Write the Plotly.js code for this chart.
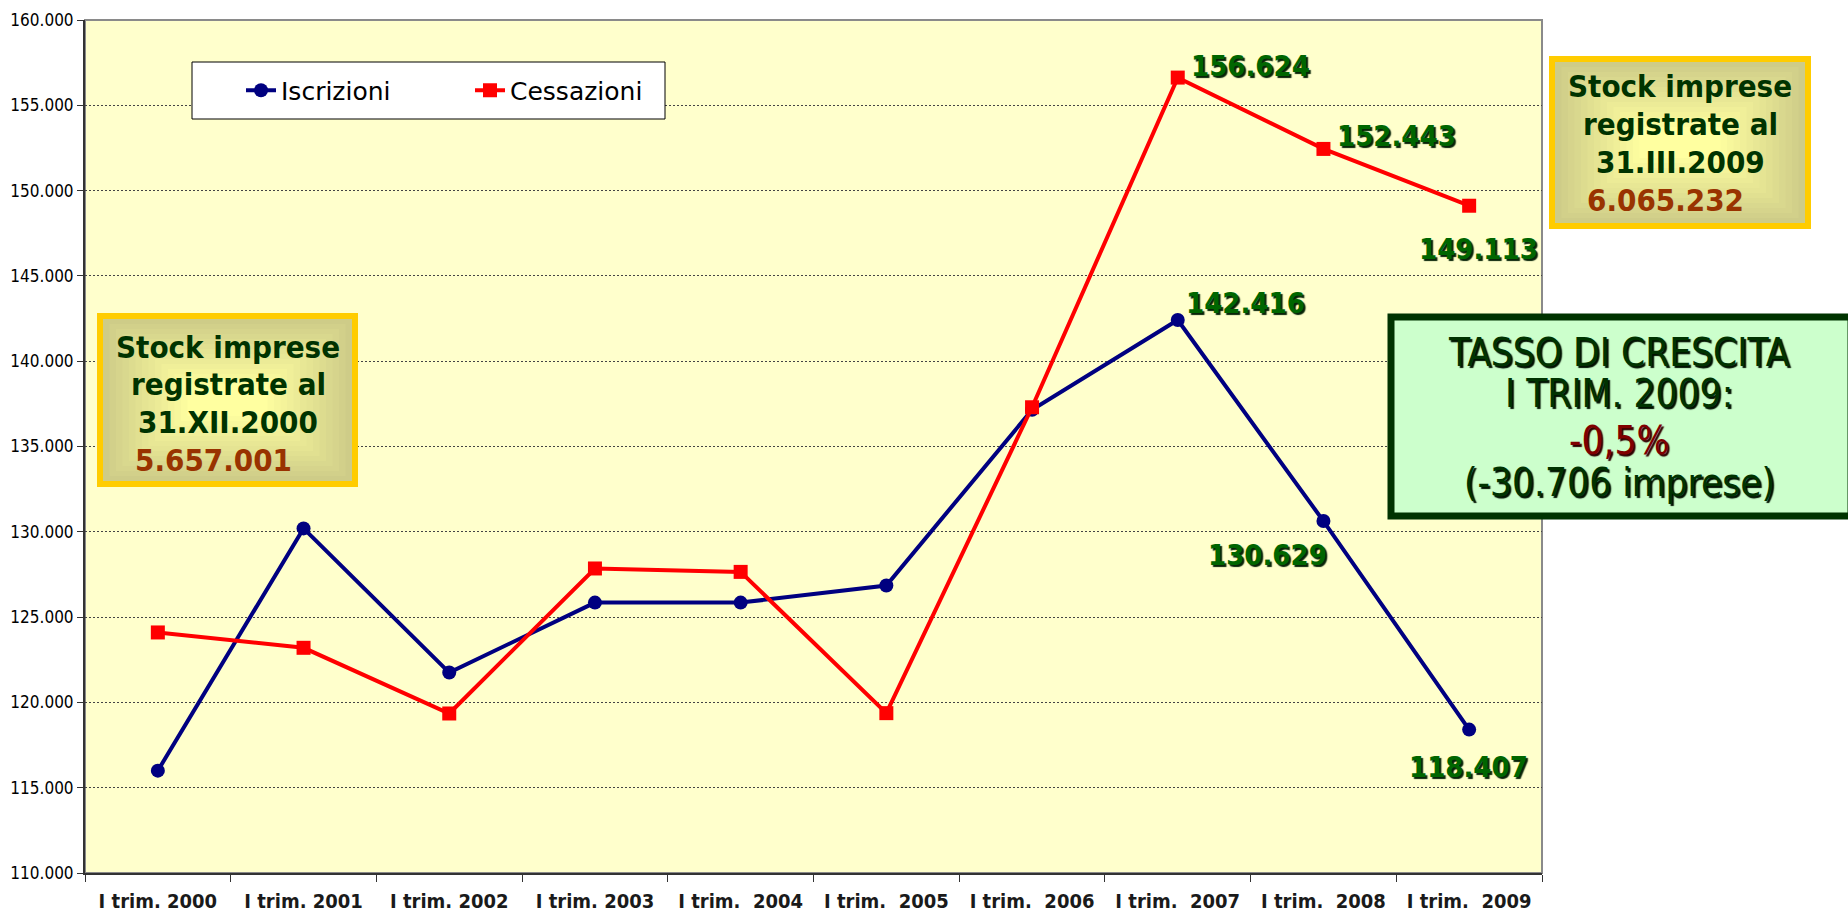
<!DOCTYPE html>
<html><head><meta charset="utf-8">
<script src="https://cdn.plot.ly/plotly-3.0.1.min.js"></script>
<style>html,body{margin:0;padding:0;background:#fff;overflow:hidden}#chart{width:1848px;height:916px}</style>
</head><body><div id="chart"></div>
<script>
// ---- data ----
const categories = ['I trim. 2000','I trim. 2001','I trim. 2002','I trim. 2003','I trim.\u00a0 2004','I trim.\u00a0 2005','I trim.\u00a0 2006','I trim.\u00a0 2007','I trim.\u00a0 2008','I trim.\u00a0 2009'];
const iscrizioni = [116000, 130200, 121750, 125850, 125850, 126850, 137150, 142416, 130629, 118407];
const cessazioni = [124100, 123200, 119350, 127850, 127650, 119370, 137300, 156624, 152443, 149113];
const seriesNames = ['Iscrizioni', 'Cessazioni'];
const stockDates = ['31.XII.2000', '31.III.2009'];
const stockValues = ['5.657.001', '6.065.232'];
const growthLines = ['TASSO DI CRESCITA', 'I TRIM. 2009:', '-0,5%', '(-30.706 imprese)'];

// ---- geometry helpers (pixel -> paper) ----
const L = 85, R = 1542, T = 20, B = 873;
const P = x => (x - L) / (R - L);
const Q = y => (B - y) / (B - T);
const F = '"DejaVu Sans Condensed", "DejaVu Sans", sans-serif';
const FN = '"DejaVu Sans", sans-serif';
const fmt = v => String(v).replace(/\B(?=(\d{3})+(?!\d))/g, '.');

const traces = [
  {x: categories, y: iscrizioni, name: seriesNames[0], type: 'scatter', mode: 'lines+markers',
   line: {color: '#000080', width: 4}, marker: {symbol: 'circle', size: 14, color: '#000080'}},
  {x: categories, y: cessazioni, name: seriesNames[1], type: 'scatter', mode: 'lines+markers',
   line: {color: '#FF0000', width: 4}, marker: {symbol: 'square', size: 14, color: '#FF0000'}}
];

const annotations = [];
const valFont = {family: F, size: 29, weight: 'bold', color: '#006600', shadow: '2px 2px 1px #082408'};
function valLabel(series, i, dx, dy) {
  annotations.push({x: categories[i], y: series[i], xref: 'x', yref: 'y', text: fmt(series[i]),
    showarrow: false, xshift: dx, yshift: -dy, font: valFont, xanchor: 'center', yanchor: 'middle'});
}
valLabel(cessazioni, 7, 73, -12);
valLabel(cessazioni, 8, 73, -13);
valLabel(cessazioni, 9, 9, 43);
valLabel(iscrizioni, 7, 68, -17);
valLabel(iscrizioni, 8, -56, 34);
valLabel(iscrizioni, 9, -1, 37);

const shapes = [];
// plot frame (top/right grey)
shapes.push({type: 'rect', xref: 'paper', yref: 'paper', x0: 0, x1: 1, y0: 0, y1: 1,
  line: {color: '#8a8a8a', width: 2}, fillcolor: 'rgba(0,0,0,0)', layer: 'below'});

// legend box
shapes.push({type: 'rect', xref: 'paper', yref: 'paper', x0: P(192), x1: P(665), y0: Q(119), y1: Q(62),
  line: {color: '#000', width: 1}, fillcolor: '#fff', layer: 'above'});

function stockBox(x0, y0, x1, y1) {
  shapes.push({type: 'rect', xref: 'paper', yref: 'paper', x0: P(x0), x1: P(x1), y0: Q(y1), y1: Q(y0),
    line: {width: 0}, fillcolor: '#FFCC00', layer: 'above'});
  const ix0 = x0 + 6, iy0 = y0 + 6, ix1 = x1 - 6, iy1 = y1 - 6;
  const steps = 14, inset = 5;
  for (let k = 0; k < steps; k++) {
    const t = k / (steps - 1);
    const r = Math.round(206 + (255 - 206) * t), g = Math.round(204 + (255 - 204) * t), b = Math.round(136 + (160 - 136) * t);
    shapes.push({type: 'rect', xref: 'paper', yref: 'paper',
      x0: P(ix0 + k * inset * 1.3), x1: P(ix1 - k * inset * 1.3), y0: Q(iy1 - k * inset), y1: Q(iy0 + k * inset),
      line: {width: 0}, fillcolor: `rgb(${r},${g},${b})`, layer: 'above'});
  }
}
stockBox(97, 313, 358, 487);
stockBox(1549, 56, 1811, 229);

// growth box
shapes.push({type: 'rect', xref: 'paper', yref: 'paper', x0: P(1391), x1: P(1851), y0: Q(516), y1: Q(317),
  line: {color: '#003300', width: 7}, fillcolor: '#CCFFCC', layer: 'above'});

const boxFont = {family: F, size: 31, weight: 'bold', color: '#003300'};
function boxText(text, cx, cy, color) {
  annotations.push({xref: 'paper', yref: 'paper', x: P(cx), y: Q(cy), text: text, showarrow: false,
    xanchor: 'center', yanchor: 'middle', font: Object.assign({}, boxFont, color ? {color} : {})});
}
boxText('Stock imprese', 228, 347);
boxText('registrate al', 228, 384);
boxText(stockDates[0], 228, 422);
boxText(stockValues[0], 213, 460, '#993300');
boxText('Stock imprese', 1680, 86);
boxText('registrate al', 1680, 124);
boxText(stockDates[1], 1680, 162);
boxText(stockValues[1], 1666, 200, '#993300');

const gFont = {family: F, size: 38.5, color: '#003300', shadow: '2px 2px 1px #001100'};
const gY = [352, 393, 440, 482];
growthLines.forEach((t, i) => {
  annotations.push({xref: 'paper', yref: 'paper', x: P(1619), y: Q(gY[i]), text: t, showarrow: false,
    xanchor: 'center', yanchor: 'middle', font: Object.assign({}, gFont, i === 2 ? {color: '#800000', shadow: '2px 2px 1px #300000'} : {})});
});

const layout = {
  width: 1848, height: 916,
  margin: {l: L, r: 1848 - R, t: T, b: 916 - B, autoexpand: false},
  paper_bgcolor: '#ffffff', plot_bgcolor: '#FFFFCC',
  separators: ',.',
  showlegend: true,
  legend: {orientation: 'h', x: P(241), xanchor: 'left', y: Q(90.5), yanchor: 'middle',
    bgcolor: 'rgba(0,0,0,0)', borderwidth: 0, font: {family: FN, size: 25, color: '#000'},
    entrywidth: 184, entrywidthmode: 'pixels'},
  xaxis: {type: 'category', range: [-0.5, 9.5], tickson: 'boundaries', ticks: 'outside', ticklen: 7,
    tickcolor: '#333', tickwidth: 1, showline: true, linecolor: '#333', linewidth: 2, showgrid: false,
    tickfont: {family: F, size: 20, weight: 'bold', color: '#1a1a1a'}, ticklabelstandoff: 9, fixedrange: true},
  yaxis: {range: [110000, 160000], dtick: 5000, tick0: 110000, tickformat: ',d', ticks: 'outside', ticklen: 6,
    tickcolor: '#333', showline: true, linecolor: '#333', linewidth: 2, showgrid: true,
    gridcolor: '#444', gridwidth: 1, griddash: '2px,2px', zeroline: false,
    tickfont: {family: F, size: 17, color: '#000'}, fixedrange: true},
  shapes: shapes,
  annotations: annotations
};
Plotly.newPlot('chart', traces, layout, {displayModeBar: false, staticPlot: true});
</script></body></html>
